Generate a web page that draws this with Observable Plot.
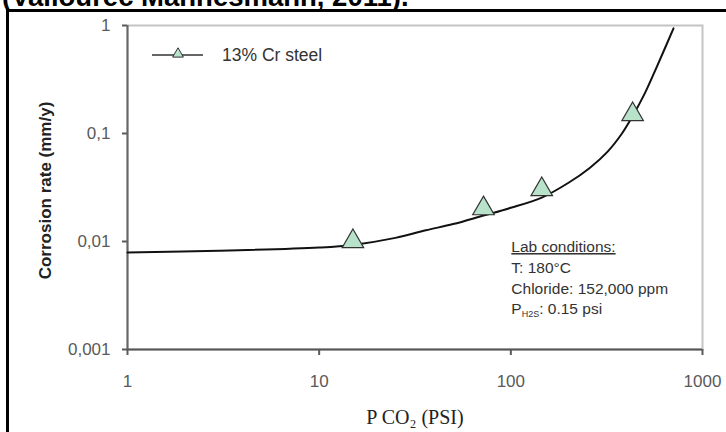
<!DOCTYPE html>
<html><head><meta charset="utf-8">
<script src="https://cdn.jsdelivr.net/npm/d3@7"></script>
<script src="https://cdn.jsdelivr.net/npm/@observablehq/plot@0.6"></script>
<style>
body{margin:0;background:#fff;}
#wrap{position:relative;width:726px;height:432px;overflow:hidden;font-family:"Liberation Sans",Arial,sans-serif;}
#chart{position:absolute;left:0;top:0;}
#title{position:absolute;left:2px;top:-16px;font:bold 27.5px "Liberation Sans",Arial,sans-serif;line-height:26px;white-space:nowrap;color:#000;}
#border{position:absolute;left:6px;top:9px;width:800px;height:500px;border-left:3px solid #000;border-top:3px solid #000;}
</style></head><body>
<div id="wrap"><div id="chart"></div><div id="title">(Vallourec Mannesmann, 2011).</div><div id="border"></div></div>
<script>
// measured points (13% Cr steel)
const pressure = [15, 72, 145, 432];
const rate = [0.0100, 0.0202, 0.0303, 0.150];
// fitted curve
const curveP = [1, 3, 10, 15, 25, 36, 50, 72, 100, 145, 200, 258, 320, 380, 432, 500, 576, 706];
const curveRate = [0.0079, 0.0082, 0.0088, 0.0093, 0.0108, 0.0127, 0.0145, 0.0174, 0.0205, 0.0255, 0.035, 0.048, 0.068, 0.100, 0.145, 0.235, 0.41, 0.94];
const xTicks = [1, 10, 100, 1000];
const xTickLabels = ["1", "10", "100", "1000"];
const yTicks = [1, 0.1, 0.01, 0.001];
const yTickLabels = ["1", "0,1", "0,01", "0,001"];
const seriesName = "13% Cr steel";
const yTitle = "Corrosion rate (mm/y)";
const xTitle = "P CO\u2082 (PSI)";
const labLines = ["Lab conditions:", "T: 180°C", "Chloride: 152,000 ppm"];
const h2sLine = ["P", "H2S", ": 0.15 psi"];

const points = pressure.map((p, i) => ({p, r: rate[i]}));
const curve = curveP.map((p, i) => ({p, r: curveRate[i]}));
const triFill = "#b8e2c9";

const plot = Plot.plot({
  width: 726, height: 432,
  marginLeft: 127, marginRight: 24, marginTop: 25, marginBottom: 83,
  style: {fontFamily: "Liberation Sans, Arial, sans-serif", background: "none"},
  x: {type: "log", domain: [1, 1000]},
  y: {type: "log", domain: [0.001, 1]},
  marks: [
    Plot.frame({stroke: "#c4c4c4", strokeWidth: 2}),
    Plot.axisX({ticks: xTicks, tickFormat: d => xTickLabels[xTicks.indexOf(d)], tickSize: 6, tickPadding: 19, fontSize: 17, color: "#5a5a5a", strokeWidth: 2, label: null}),
    Plot.axisY({ticks: yTicks, tickFormat: d => yTickLabels[yTicks.indexOf(d)], tickSize: 5, tickPadding: 12, fontSize: 17, color: "#5a5a5a", strokeWidth: 2, label: null}),
    Plot.ruleX([1], {stroke: "#666", strokeWidth: 2}),
    Plot.ruleY([0.001], {stroke: "#555", strokeWidth: 2}),
    Plot.line(curve, {x: "p", y: "r", curve: "catmull-rom", stroke: "#111", strokeWidth: 2}),
    Plot.dot(points, {x: "p", y: "r", symbol: "triangle", r: 8, fill: triFill, stroke: "#333", strokeWidth: 1.2}),
    Plot.text([yTitle], {text: d => d, frameAnchor: "left", textAnchor: "middle", rotate: -90, dx: -82, dy: 3, fontWeight: "bold", fontSize: 17, fill: "#222"}),
    Plot.text([xTitle], {text: d => d, frameAnchor: "bottom", dy: 74, lineAnchor: "bottom", fontFamily: "Liberation Serif, Times New Roman, serif", fontSize: 20, fill: "#222"})
  ]
});
document.getElementById("chart").appendChild(plot);

const sx = plot.scale("x"), sy = plot.scale("y");
const svg = d3.select(plot);
const fLeft = sx.apply(1), fTop = sy.apply(1);

// legend
const lg = svg.append("g").attr("text-anchor", "start");
lg.append("line").attr("x1", fLeft + 25).attr("x2", fLeft + 76).attr("y1", fTop + 30).attr("y2", fTop + 30)
  .attr("stroke", "#333").attr("stroke-width", 1.5);
lg.append("path").attr("d", d3.symbol(d3.symbolTriangle, 4 * 4 * Math.PI)())
  .attr("transform", `translate(${fLeft + 51},${fTop + 29})`).attr("fill", triFill).attr("stroke", "#333").attr("stroke-width", 1);
lg.append("text").attr("x", fLeft + 95).attr("y", fTop + 36).attr("font-size", 17.5).attr("fill", "#333").text(seriesName);

// lab conditions annotation
const ax = sx.apply(100) + 1, ay = sy.apply(0.01) + 11;
const ag = svg.append("g").attr("text-anchor", "start").attr("font-size", 15.5).attr("fill", "#333");
labLines.forEach((t, i) => {
  const el = ag.append("text").attr("x", ax).attr("y", ay + i * 21).text(t);
  if (i === 0) el.attr("text-decoration", "underline");
});
const last = ag.append("text").attr("x", ax).attr("y", ay + 3 * 21 - 1);
last.append("tspan").text(h2sLine[0]);
last.append("tspan").attr("font-size", 9).attr("dy", 3).text(h2sLine[1]);
last.append("tspan").attr("dy", -3).text(h2sLine[2]);
</script>
</body></html>
